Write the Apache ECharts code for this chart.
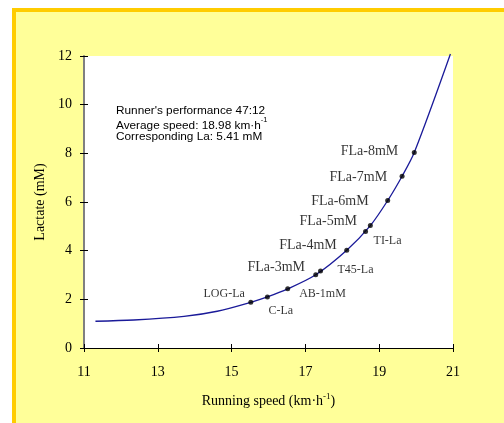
<!DOCTYPE html>
<html>
<head>
<meta charset="utf-8">
<script src="https://cdn.jsdelivr.net/npm/echarts@6/dist/echarts.min.js"></script>
<style>
html,body{margin:0;padding:0;background:#fff;}
#frame{position:absolute;left:12px;top:8px;width:600px;height:500px;background:#FFFF99;border-top:4px solid #FFCC00;border-left:4px solid #FFCC00;}
#chart{position:absolute;left:0;top:0;width:504px;height:423px;}
</style>
</head>
<body>
<div id="frame"></div>
<div id="chart"></div>
<script>
// ---- data ----
const curveSpeed   = [11.31, 12.35, 13.71, 14.61, 15.52, 15.97, 16.52, 17.28, 18.12, 18.76, 19.23, 19.62, 19.95, 20.93];
const curveLactate = [1.10, 1.15, 1.30, 1.51, 1.88, 2.10, 2.43, 3.01, 4.02, 5.03, 6.06, 7.06, 8.03, 12.08];
const markerNames   = ['LOG-La', 'C-La', 'AB-1mM', 'FLa-3mM', 'T45-La', 'FLa-4mM', 'TI-La', 'FLa-5mM', 'FLa-6mM', 'FLa-7mM', 'FLa-8mM'];
const markerSpeed   = [15.52, 15.97, 16.52, 17.28, 17.41, 18.12, 18.63, 18.76, 19.23, 19.62, 19.95];
const markerLactate = [1.88, 2.10, 2.43, 3.01, 3.16, 4.02, 4.79, 5.03, 6.06, 7.06, 8.03];
const xTicks = [11, 13, 15, 17, 19, 21];
const yTicks = [0, 2, 4, 6, 8, 10, 12];
const infoLines = ["Runner's performance 47:12", 'Average speed: 18.98 km\u00b7h', 'Corresponding La: 5.41 mM'];

// ---- label styling (positions relative to the marker) ----
const labelStyle = {
  'LOG-La':  {side:'left',  dx:-3.5, dy:-8.7, size:12},
  'C-La':    {side:'right', dx:-1.5, dy:13.7, size:12},
  'AB-1mM':  {side:'right', dx:9,    dy:5,    size:12},
  'FLa-3mM': {side:'left',  dx:-8.2, dy:-7,   size:14},
  'T45-La':  {side:'right', dx:14.5, dy:-1.7, size:12},
  'FLa-4mM': {side:'left',  dx:-7.5, dy:-4.7, size:14},
  'TI-La':   {side:'right', dx:5.5,  dy:9,    size:12},
  'FLa-5mM': {side:'left',  dx:-10.8,dy:-4.6, size:14},
  'FLa-6mM': {side:'left',  dx:-16.5,dy:0.4,  size:14},
  'FLa-7mM': {side:'left',  dx:-12.5,dy:0.7,  size:14},
  'FLa-8mM': {side:'left',  dx:-13.5,dy:-1.6, size:14}
};

const serif = '"Liberation Serif", "Times New Roman", serif';
const sans = '"Liberation Sans", Arial, sans-serif';

const chart = echarts.init(document.getElementById('chart'), null, {renderer:'canvas'});

const markerData = markerNames.map((n, i) => {
  const s = labelStyle[n];
  return {
    name: n,
    value: [markerSpeed[i], markerLactate[i]],
    label: {
      show: true, position: s.side, distance: 0, offset: [s.dx, s.dy],
      formatter: n, fontFamily: serif, fontSize: s.size, color: '#000'
    }
  };
});

const xMin = xTicks[0], xMax = xTicks[xTicks.length - 1];
const yMin = yTicks[0], yMax = yTicks[yTicks.length - 1];

const baseX = {
  type: 'value', min: xMin, max: xMax, interval: xTicks[1] - xTicks[0],
  splitLine: {show: false}
};
const baseY = {
  type: 'value', min: yMin, max: yMax, interval: yTicks[1] - yTicks[0],
  splitLine: {show: false}
};

chart.setOption({
  animation: false,
  grid: {left: 84, top: 56, right: 51, bottom: 75, show: true, backgroundColor: '#fff', borderWidth: 0},
  xAxis: [
    Object.assign({}, baseX, {
      position: 'bottom',
      axisLine: {show: true, lineStyle: {color: '#000', width: 1}},
      axisTick: {show: true, inside: false, length: 4, lineStyle: {color: '#000'}},
      axisLabel: {margin: 17, fontFamily: serif, fontSize: 14, color: '#000'},
      name: '{a|Running speed (km\u00b7h}{s|-1}{a|)}',
      nameLocation: 'middle', nameGap: 44,
      nameTextStyle: {
        rich: {
          a: {fontFamily: serif, fontSize: 14, color: '#000', verticalAlign: 'bottom', lineHeight: 16},
          s: {fontFamily: serif, fontSize: 9, color: '#000', verticalAlign: 'top', lineHeight: 16}
        }
      }
    }),
    Object.assign({}, baseX, {
      position: 'bottom',
      axisLine: {show: false},
      axisTick: {show: true, inside: true, length: 4, lineStyle: {color: '#000'}},
      axisLabel: {show: false}
    })
  ],
  yAxis: [
    Object.assign({}, baseY, {
      axisLine: {show: true, lineStyle: {color: '#808080', width: 2}},
      axisTick: {show: true, inside: false, length: 4, lineStyle: {color: '#000'}},
      axisLabel: {margin: 12, fontFamily: serif, fontSize: 14, color: '#000'},
      name: 'Lactate (mM)', nameLocation: 'middle', nameGap: 37,
      nameTextStyle: {fontFamily: serif, fontSize: 14, color: '#000'}
    }),
    Object.assign({}, baseY, {
      position: 'left',
      axisLine: {show: false},
      axisTick: {show: true, inside: true, length: 4, lineStyle: {color: '#000'}},
      axisLabel: {show: false}
    })
  ],
  series: [
    {
      type: 'line', smooth: 0.3, symbol: 'none', clip: false,
      data: curveSpeed.map((x, i) => [x, curveLactate[i]]),
      lineStyle: {color: '#1a1a99', width: 1.3},
      z: 2
    },
    {
      type: 'scatter', symbol: 'circle', symbolSize: 5,
      itemStyle: {color: '#000'},
      data: markerData,
      z: 3
    }
  ],
  graphic: [
    {type: 'text', left: 116, top: 105, z: 10,
     style: {text: infoLines[0], font: '11.8px ' + sans, fill: '#000'}},
    {type: 'text', left: 116, top: 115.5, z: 10,
     style: {text: '{n|' + infoLines[1] + '}{s|-1}',
       rich: {n: {fontFamily: sans, fontSize: 11.8, fill: '#000', verticalAlign: 'bottom', lineHeight: 16},
              s: {fontFamily: sans, fontSize: 7.5, fill: '#000', verticalAlign: 'top', lineHeight: 16}}}},
    {type: 'text', left: 116, top: 130.5, z: 10,
     style: {text: infoLines[2], font: '11.8px ' + sans, fill: '#000'}}
  ]
});
</script>
</body>
</html>
